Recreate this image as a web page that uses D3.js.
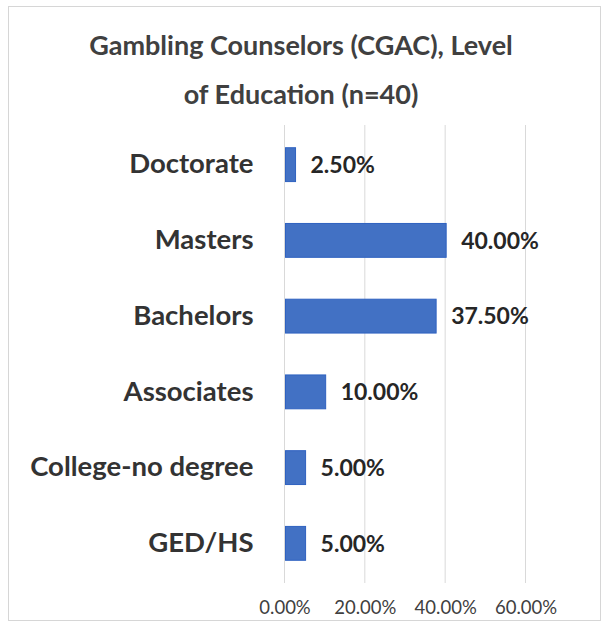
<!DOCTYPE html>
<html>
<head>
<meta charset="utf-8">
<script src="https://cdn.jsdelivr.net/npm/d3@7"></script>
<style>
    body { margin: 0; background: #fff; }
    svg { font-family: Lato, "Open Sans", sans-serif; }
</style>
</head>
<body>
<script>
// chart data, top to bottom
var categories = ["Doctorate", "Masters", "Bachelors", "Associates",
                  "College-no degree", "GED/HS"];
var values = [0.025, 0.40, 0.375, 0.10, 0.05, 0.05];
var tickValues = [0, 0.2, 0.4, 0.6];
var titleLines = ["Gambling Counselors (CGAC), Level",
                  "of Education (n=40)"];

var W = 603, H = 622;
var margin = {top: 125, right: 77, bottom: 39, left: 284.5},
    width = W - margin.left - margin.right,
    height = H - margin.top - margin.bottom;

var svg = d3.select("body").append("svg")
    .attr("width", W)
    .attr("height", H);

// outer frame
svg.append("rect")
    .attr("x", 8.5).attr("y", 6.5)
    .attr("width", 592).attr("height", 614)
    .attr("fill", "#fff")
    .attr("stroke", "#d6d6d6");

// title
svg.append("g").selectAll("text")
    .data(titleLines)
    .enter().append("text")
    .attr("x", 301)
    .attr("y", function(d, i) { return 55 + i * 49; })
    .attr("text-anchor", "middle")
    .attr("font-size", "27px")
    .attr("font-weight", "bold")
    .attr("fill", "#404040")
    .text(function(d) { return d; });

var g = svg.append("g")
    .attr("transform", "translate(" + margin.left + "," + margin.top + ")");

var xScale = d3.scaleLinear().domain([0, 0.6]).range([0, 241]);
var yScale = d3.scaleBand().domain(categories)
    .range([0, height]).paddingInner(0.553).paddingOuter(0.3);

// gridlines
g.selectAll("line.grid")
    .data(tickValues)
    .enter().append("line")
    .attr("class", "grid")
    .attr("x1", function(d) { return xScale(d); })
    .attr("x2", function(d) { return xScale(d); })
    .attr("y1", 0)
    .attr("y2", height)
    .attr("stroke", "#d9d9d9")
    .attr("stroke-width", 1);

// bars
g.selectAll("rect.bar")
    .data(values)
    .enter().append("rect")
    .attr("class", "bar")
    .attr("x", xScale(0) + 1)
    .attr("y", function(d, i) { return yScale(categories[i]); })
    .attr("width", function(d) { return xScale(d) - xScale(0); })
    .attr("height", yScale.bandwidth())
    .attr("fill", "#4271c4")
    .attr("stroke", "#2f62c0")
    .attr("stroke-width", 1);

// value labels
g.selectAll("text.val")
    .data(values)
    .enter().append("text")
    .attr("class", "val")
    .attr("x", function(d) { return xScale(d) + 16; })
    .attr("y", function(d, i) {
        return yScale(categories[i]) + yScale.bandwidth() / 2;
    })
    .attr("dy", "0.36em")
    .attr("font-size", "23px")
    .attr("font-weight", "bold")
    .attr("fill", "#262626")
    .text(function(d) { return (d * 100).toFixed(2) + "%"; });

// category axis
var yAxis = d3.axisLeft(yScale).tickSize(0).tickPadding(31);
g.append("g")
    .attr("class", "y axis")
    .call(yAxis)
    .call(function(s) { s.select(".domain").remove(); })
    .selectAll("text")
    .attr("font-size", "27.5px")
    .attr("font-weight", "bold")
    .attr("font-family", "Lato, sans-serif")
    .attr("fill", "#333333");

// value axis
var xAxis = d3.axisBottom(xScale).tickValues(tickValues).tickSize(0)
    .tickPadding(18)
    .tickFormat(function(d) { return (d * 100).toFixed(2) + "%"; });
g.append("g")
    .attr("class", "x axis")
    .attr("transform", "translate(0," + height + ")")
    .call(xAxis)
    .call(function(s) { s.select(".domain").remove(); })
    .selectAll("text")
    .attr("font-size", "18.5px")
    .attr("font-family", "Lato, sans-serif")
    .attr("fill", "#404040");
</script>
</body>
</html>
